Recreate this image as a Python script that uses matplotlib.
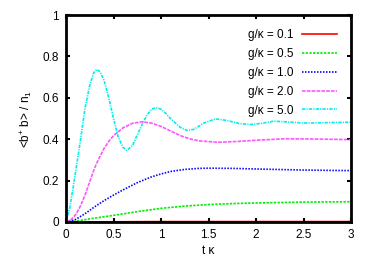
import matplotlib
matplotlib.use("Agg")
import matplotlib.pyplot as plt

plt.rcParams['font.family'] = ['Liberation Sans', 'DejaVu Sans']
plt.rcParams['mathtext.fontset'] = 'custom'
plt.rcParams['mathtext.rm'] = 'Liberation Sans'
plt.rcParams['mathtext.it'] = 'Liberation Sans'

labels = ["g/κ = 0.1", "g/κ = 0.5", "g/κ = 1.0", "g/κ = 2.0", "g/κ = 5.0"]
colors = ["#ff0000", "#00ee00", "#0000ff", "#ff55ff", "#00eeee"]

t_red = [0, 0.5, 1.0, 1.5, 2.0, 2.5, 3.0]
y_red = [0, 0.001, 0.002, 0.002, 0.002, 0.002, 0.002]

t_green = [0, 0.1, 0.25, 0.5, 0.75, 1.0, 1.25, 1.5, 1.75, 2.0, 2.5, 3.0]
y_green = [0, 0.004, 0.015, 0.032, 0.05, 0.066, 0.077, 0.084, 0.089, 0.092, 0.096, 0.098]

t_blue = [0, 0.1, 0.2, 0.3, 0.4, 0.5, 0.6, 0.75, 0.9, 1.0, 1.1, 1.25, 1.4, 1.5, 1.75, 2.0, 2.5, 3.0]
y_blue = [0, 0.012, 0.04, 0.073, 0.103, 0.13, 0.155, 0.19, 0.218, 0.232, 0.244, 0.254, 0.259, 0.26, 0.259, 0.256, 0.251, 0.248]

t_mag = [0, 0.05, 0.1, 0.15, 0.2, 0.25, 0.3, 0.35, 0.4, 0.45, 0.5, 0.6, 0.7, 0.8, 0.9, 1.0, 1.1, 1.2, 1.3, 1.4, 1.6, 1.8, 2.0, 2.3, 2.6, 3.0]
y_mag = [0, 0.01, 0.035, 0.075, 0.13, 0.195, 0.26, 0.31, 0.355, 0.39, 0.417, 0.455, 0.477, 0.484, 0.478, 0.462, 0.44, 0.418, 0.402, 0.392, 0.385, 0.389, 0.395, 0.402, 0.401, 0.398]

t_cyan = [0, 0.04, 0.077, 0.11, 0.148, 0.2, 0.25, 0.29, 0.324, 0.36, 0.4, 0.45, 0.5, 0.55, 0.6, 0.64, 0.7, 0.75, 0.8, 0.85, 0.9, 0.95, 1.0, 1.05, 1.1, 1.2, 1.275, 1.35, 1.45, 1.573, 1.7, 1.82, 1.94, 2.05, 2.19, 2.35, 2.5, 2.75, 3.0]
y_cyan = [0, 0.07, 0.172, 0.27, 0.382, 0.55, 0.66, 0.72, 0.737, 0.725, 0.685, 0.6, 0.5, 0.41, 0.36, 0.346, 0.37, 0.42, 0.47, 0.515, 0.545, 0.553, 0.545, 0.525, 0.5, 0.458, 0.442, 0.448, 0.478, 0.498, 0.49, 0.476, 0.471, 0.476, 0.487, 0.483, 0.478, 0.48, 0.482]

xticks = [0, 0.5, 1, 1.5, 2, 2.5, 3]
xticklabels = ["0", "0.5", "1", "1.5", "2", "2.5", "3"]
yticks = [0, 0.2, 0.4, 0.6, 0.8, 1]
yticklabels = ["0", "0.2", "0.4", "0.6", "0.8", "1"]

fig = plt.figure(figsize=(3.74, 2.62), dpi=100)
ax = fig.add_axes([0.1765, 0.1527, 0.762, 0.79])

styles = ['-', (0, (1.4, 0.8)), (0, (0.9, 0.9)), (0, (2.2, 0.7)), (0, (2.0, 0.7, 0.7, 0.7))]
zorders = [1, 2, 2, 2, 2]
series = [(t_red, y_red), (t_green, y_green), (t_blue, y_blue), (t_mag, y_mag), (t_cyan, y_cyan)]
for (tt, yy), c, ls, lab, z in zip(series, colors, styles, labels, zorders):
    ax.plot(tt, yy, color=c, linestyle=ls, linewidth=1.2, label=lab, zorder=z)

ax.set_xlim(0, 3)
ax.set_ylim(0, 1)
ax.set_xticks(xticks)
ax.set_xticklabels(xticklabels)
ax.set_yticks(yticks)
ax.set_yticklabels(yticklabels)
ax.tick_params(direction='in', top=True, right=True, length=3, width=1.5, labelsize=8.5, pad=5)
for s in ax.spines.values():
    s.set_linewidth(2)
    s.set_zorder(3)
ax.set_xlabel("t κ", fontsize=8.5, labelpad=3)
ax.set_ylabel(r"<b$^{+}$ b> / n$_{1}$", fontsize=8.5, labelpad=6)

leg = ax.legend(loc='upper right', frameon=False, markerfirst=False, fontsize=8.5,
                handlelength=2.95, labelspacing=0.58, borderaxespad=0.8, handletextpad=0.75,
                borderpad=0.4)

fig.savefig("out.png", dpi=100)
